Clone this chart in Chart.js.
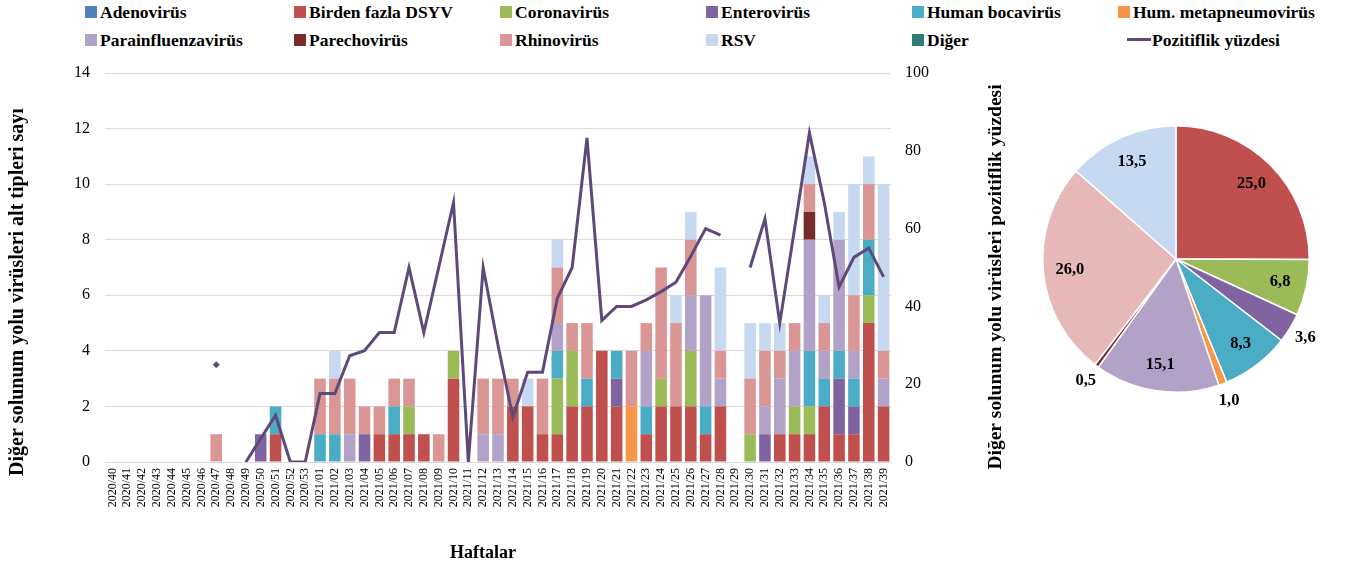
<!DOCTYPE html>
<html>
<head>
<meta charset="utf-8">
<script src="https://cdn.jsdelivr.net/npm/chart.js@4.4.1/dist/chart.umd.min.js"></script>
<style>
  body { margin: 0; background: #fff; width: 1349px; height: 572px; overflow: hidden; position: relative; font-family: "Liberation Serif", "Times New Roman", serif; }
  #barChart { position: absolute; left: 0; top: 0; }
  #pieChart { position: absolute; left: 1006px; top: 89px; }
  .leg { position: absolute; font-weight: bold; font-size: 17.5px; line-height: 18px; white-space: nowrap; color: #000; }
  .leg .key { position: absolute; left: 0; top: 3px; width: 12px; height: 12px; }
  .leg .key.line { left: 9px; top: 7px; width: 24px; height: 3px; }
</style>
</head>
<body>
<div id="legend"></div>
<canvas id="barChart" width="1020" height="572"></canvas>
<canvas id="pieChart" width="340" height="340"></canvas>
<script>
// Week labels (2020/40 - 2021/39)
const weeks = [
  "2020/40", "2020/41", "2020/42", "2020/43", "2020/44", "2020/45", "2020/46", "2020/47", "2020/48", "2020/49",
  "2020/50", "2020/51", "2020/52", "2020/53",
  "2021/01", "2021/02", "2021/03", "2021/04", "2021/05", "2021/06", "2021/07", "2021/08", "2021/09", "2021/10",
  "2021/11", "2021/12", "2021/13", "2021/14", "2021/15", "2021/16", "2021/17", "2021/18", "2021/19", "2021/20",
  "2021/21", "2021/22", "2021/23", "2021/24", "2021/25", "2021/26", "2021/27", "2021/28", "2021/29", "2021/30",
  "2021/31", "2021/32", "2021/33", "2021/34", "2021/35", "2021/36", "2021/37", "2021/38", "2021/39"
];

// Weekly counts per virus (first 14 values = 2020/40-53, then 2021/01-39)
const adeno = [0,0,0,0,0,0,0,0,0,0,0,0,0,0, 0,0,0,0,0,0,0,0,0,0, 0,0,0,0,0,0,0,0,0,0, 0,0,0,0,0,0,0,0,0,0, 0,0,0,0,0,0,0,0,0];
const dsyv = [0,0,0,0,0,0,0,0,0,0,0,1,0,0, 0,0,0,0,1,1,1,1,0,3, 0,0,0,2,2,1,1,2,2,4, 2,0,1,2,2,2,1,2,0,0, 0,1,1,1,2,1,1,5,2];
const corona = [0,0,0,0,0,0,0,0,0,0,0,0,0,0, 0,0,0,0,0,0,1,0,0,1, 0,0,0,0,0,0,2,2,0,0, 0,0,0,1,0,2,0,0,0,1, 0,0,1,1,0,0,0,1,0];
const entero = [0,0,0,0,0,0,0,0,0,0,1,0,0,0, 0,0,0,1,0,0,0,0,0,0, 0,0,0,0,0,0,0,0,0,0, 1,0,0,0,0,0,0,0,0,0, 1,0,0,0,0,2,1,0,0];
const boca = [0,0,0,0,0,0,0,0,0,0,0,1,0,0, 1,1,0,0,0,1,0,0,0,0, 0,0,0,0,0,0,1,0,1,0, 1,0,1,0,0,0,1,0,0,0, 0,0,0,2,1,1,1,2,0];
const hmpv = [0,0,0,0,0,0,0,0,0,0,0,0,0,0, 0,0,0,0,0,0,0,0,0,0, 0,0,0,0,0,0,0,0,0,0, 0,2,0,0,0,0,0,0,0,0, 0,0,0,0,0,0,0,0,0];
const parainf = [0,0,0,0,0,0,0,0,0,0,0,0,0,0, 0,0,1,0,0,0,0,0,0,0, 0,1,1,0,0,0,1,0,0,0, 0,0,2,0,0,2,4,1,0,0, 1,2,2,4,1,4,1,0,1];
const parecho = [0,0,0,0,0,0,0,0,0,0,0,0,0,0, 0,0,0,0,0,0,0,0,0,0, 0,0,0,0,0,0,0,0,0,0, 0,0,0,0,0,0,0,0,0,0, 0,0,0,1,0,0,0,0,0];
const rhino = [0,0,0,0,0,0,0,1,0,0,0,0,0,0, 2,2,2,1,1,1,1,0,1,0, 0,2,2,1,0,2,2,1,2,0, 0,2,1,4,3,2,0,1,0,2, 2,1,1,1,1,0,2,2,1];
const rsv = [0,0,0,0,0,0,0,0,0,0,0,0,0,0, 0,1,0,0,0,0,0,0,0,0, 0,0,0,0,1,0,1,0,0,0, 0,0,0,0,1,1,0,3,0,2, 1,1,0,1,1,1,4,1,6];
const diger = [0,0,0,0,0,0,0,0,0,0,0,0,0,0, 0,0,0,0,0,0,0,0,0,0, 0,0,0,0,0,0,0,0,0,0, 0,0,0,0,0,0,0,0,0,0, 0,0,0,0,0,0,0,0,0];

// Positivity percentage (null = no data)
const positivity = [null,null,null,null,null,null,null,25,null,0,6,12,0,0,
  17.6,17.6,27.3,28.6,33.3,33.3,50,33.3,50,66.7,
  0,50,30,11.5,23.1,23.1,42.1,50,83.3,36.4,
  40,40,41.7,43.8,46.2,52.9,60,58.3,null,50,
  62.5,35.7,60,84.6,66.7,45,52.6,55,47.6];

// Pie: share of each virus (%)
const pieLabels = ["Birden fazla DSYV", "Coronavirüs", "Enterovirüs", "Human bocavirüs", "Hum. metapneumovirüs", "Parainfluenzavirüs", "Parechovirüs", "Rhinovirüs", "RSV"];
const pieValues = [25.0, 6.8, 3.6, 8.3, 1.0, 15.1, 0.5, 26.0, 13.5];
const pieColors = ["#c0504d", "#9bbb59", "#8064a2", "#4bacc6", "#f79646", "#b3a2c7", "#772c2a", "#e6b9b8", "#c6d9f1"];

const virusNames = ["Adenovirüs", "Birden fazla DSYV", "Coronavirüs", "Enterovirüs", "Human bocavirüs", "Hum. metapneumovirüs",
  "Parainfluenzavirüs", "Parechovirüs", "Rhinovirüs", "RSV", "Diğer"];
const virusData = [adeno, dsyv, corona, entero, boca, hmpv, parainf, parecho, rhino, rsv, diger];
const virusColors = ["#4f81bd", "#c0504d", "#9bbb59", "#8064a2", "#4bacc6", "#f79646",
  "#b3a2c7", "#772c2a", "#d99694", "#c6d9f1", "#2e7d6e"];
const lineName = "Pozitiflik yüzdesi";
const lineColor = "#5f497a";

const FONT = '"Liberation Serif", "Times New Roman", serif';

// HTML legend, 6 columns x 2 rows
const legendCols = [85, 294, 500, 706, 912, 1118];
const legendRows = [3, 31];
const legendEl = document.getElementById('legend');
const legendItems = virusNames.map((n, i) => ({ name: n, color: virusColors[i], line: false }));
legendItems.push({ name: lineName, color: lineColor, line: true });
legendItems.forEach((item, i) => {
  const div = document.createElement('div');
  div.className = 'leg';
  div.style.left = legendCols[i % 6] + 'px';
  div.style.top = legendRows[Math.floor(i / 6)] + 'px';
  const key = document.createElement('span');
  key.className = item.line ? 'key line' : 'key';
  key.style.background = item.color;
  div.appendChild(key);
  const txt = document.createElement('span');
  txt.textContent = item.name;
  txt.style.marginLeft = item.line ? '34px' : '15px';
  div.appendChild(txt);
  legendEl.appendChild(div);
});

// Axis titles drawn at fixed spots
const titlePlugin = {
  id: 'titles',
  afterDraw(chart) {
    const c = chart.ctx;
    c.save();
    c.fillStyle = '#000';
    c.textAlign = 'center';
    c.textBaseline = 'middle';
    c.font = 'bold 20px ' + FONT;
    c.save();
    c.translate(18, 292);
    c.rotate(-Math.PI / 2);
    c.fillText("Diğer solunum yolu virüsleri alt tipleri sayı", 0, 0);
    c.restore();
    c.font = 'bold 19.5px ' + FONT;
    c.save();
    c.translate(996, 277);
    c.rotate(-Math.PI / 2);
    c.fillText("Diğer solunum yolu virüsleri pozitiflik yüzdesi", 0, 0);
    c.restore();
    c.font = 'bold 18px ' + FONT;
    c.fillText("Haftalar", 483, 553);
    c.restore();
  }
};

const isolated = (i) => positivity[i] !== null && positivity[i - 1] == null && positivity[i + 1] == null;

const barDatasets = virusNames.map((n, i) => ({
  type: 'bar',
  label: n,
  data: virusData[i],
  backgroundColor: virusColors[i],
  yAxisID: 'y',
  stack: 'v',
  barPercentage: 0.78,
  categoryPercentage: 1,
  order: 1
}));

new Chart(document.getElementById('barChart'), {
  type: 'bar',
  data: {
    labels: weeks,
    datasets: [{
      type: 'line',
      label: lineName,
      data: positivity,
      yAxisID: 'y1',
      borderColor: lineColor,
      backgroundColor: lineColor,
      borderWidth: 3,
      tension: 0,
      spanGaps: false,
      pointStyle: 'rectRot',
      pointRadius: ctx => isolated(ctx.dataIndex) ? 3.5 : 0,
      pointBorderWidth: 0,
      order: 0
    }, ...barDatasets]
  },
  options: {
    responsive: false,
    animation: false,
    layout: { padding: { top: 73 } },
    plugins: { legend: { display: false }, tooltip: { enabled: false } },
    scales: {
      x: {
        stacked: true,
        grid: { display: false, drawTicks: false },
        border: { display: true, color: '#d9d9d9' },
        ticks: { autoSkip: false, minRotation: 90, maxRotation: 90, padding: 6, color: '#000', font: { family: FONT, size: 12 } },
        afterFit: s => { s.height = 110; }
      },
      y: {
        stacked: true,
        min: 0, max: 14,
        ticks: { stepSize: 2, padding: 15, color: '#000', font: { family: FONT, size: 16 } },
        grid: { color: '#d9d9d9', drawTicks: false },
        border: { display: false },
        afterFit: s => { s.width = 105; }
      },
      y1: {
        position: 'right',
        min: 0, max: 100,
        ticks: { stepSize: 20, padding: 14, color: '#000', font: { family: FONT, size: 16 } },
        grid: { display: false, drawTicks: false },
        border: { display: false },
        afterFit: s => { s.width = 129; }
      }
    }
  },
  plugins: [titlePlugin]
});

// Pie value labels
const pieLabelPlugin = {
  id: 'pieLabels',
  afterDraw(chart) {
    const c = chart.ctx;
    const meta = chart.getDatasetMeta(0);
    c.save();
    c.fillStyle = '#000';
    c.font = 'bold 16.5px ' + FONT;
    c.textAlign = 'center';
    c.textBaseline = 'middle';
    meta.data.forEach((arc, i) => {
      const v = pieValues[i];
      const mid = (arc.startAngle + arc.endAngle) / 2;
      const r = v < 5 ? arc.outerRadius + 18 : arc.outerRadius * 0.8;
      const x = arc.x + Math.cos(mid) * r;
      const y = arc.y + Math.sin(mid) * r;
      c.fillText(v.toFixed(1).replace('.', ','), x, y);
    });
    c.restore();
  }
};

new Chart(document.getElementById('pieChart'), {
  type: 'pie',
  data: {
    labels: pieLabels,
    datasets: [{ data: pieValues, backgroundColor: pieColors, borderColor: '#fff', borderWidth: 1.5 }]
  },
  options: {
    responsive: false,
    animation: false,
    layout: { padding: 36 },
    plugins: { legend: { display: false }, tooltip: { enabled: false } }
  },
  plugins: [pieLabelPlugin]
});
</script>
</body>
</html>
